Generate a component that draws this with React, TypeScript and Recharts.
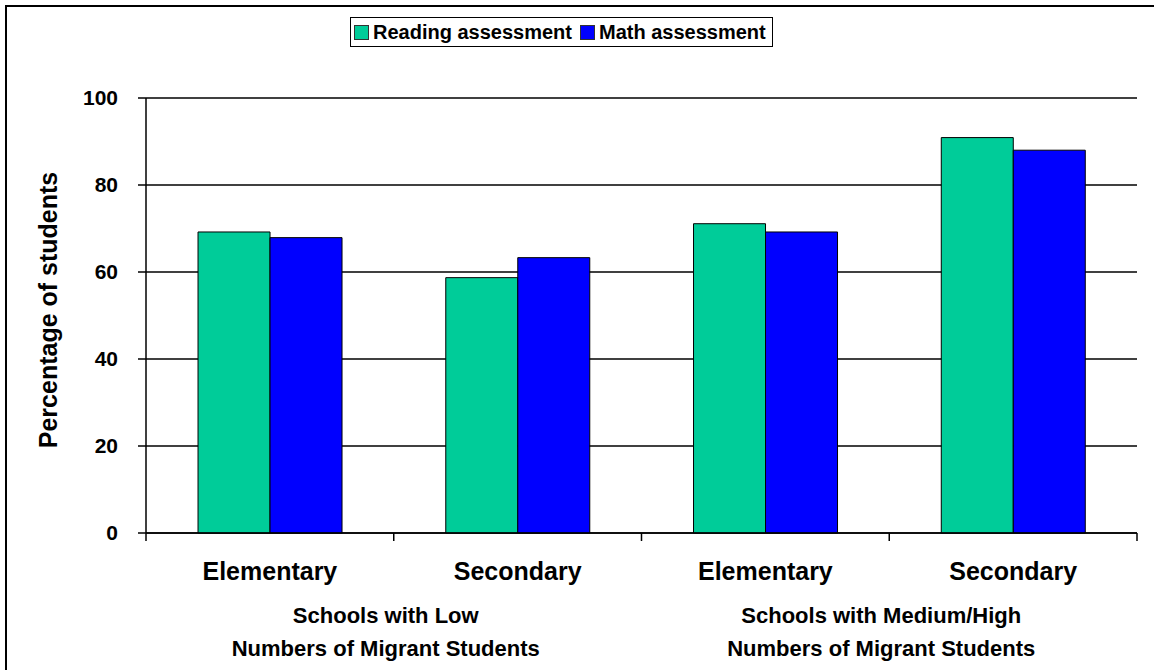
import React from "react";
import { Bar, BarChart, CartesianGrid, XAxis, YAxis } from "recharts";

const categories = ["Elementary", "Secondary", "Elementary", "Secondary"];
const readingValues = [69.2, 58.7, 71.1, 90.9];
const mathValues = [67.9, 63.3, 69.2, 88.0];
const groupLabels = [
  ["Schools with Low", "Numbers of Migrant Students"],
  ["Schools with Medium/High", "Numbers of Migrant Students"]
];
const yTicks = [0, 20, 40, 60, 80, 100];
const seriesNames = ["Reading assessment", "Math assessment"];
const seriesColors = ["#00CC99", "#0000FF"];

const data = categories.map((name, i) => ({
  idx: i,
  name,
  reading: readingValues[i],
  math: mathValues[i]
}));

const W = 1154;
const H = 670;
const margin = { top: 98, right: 17, left: 86, bottom: 0 };
const yAxisWidth = 60;
const xAxisHeight = 137;
const band = (W - margin.left - margin.right - yAxisWidth) / categories.length;
const FONT = "'Liberation Sans', Arial, sans-serif";

function CategoryTick(props: any) {
  const { x, y, payload, index } = props;
  const left = x - band / 2;
  const g = Math.floor(index / 2);
  return (
    <g>
      <line x1={left} x2={left} y1={y} y2={y + 8} stroke="#000" strokeWidth={1.5} />
      {index === categories.length - 1 && (
        <line x1={x + band / 2} x2={x + band / 2} y1={y} y2={y + 8} stroke="#000" strokeWidth={1.5} />
      )}
      <text x={x} y={y + 47} textAnchor="middle" fontSize={25} fontWeight="bold" fill="#000" fontFamily={FONT}>
        {categories[payload.value]}
      </text>
      {index % 2 === 1 &&
        groupLabels[g].map((line, j) => (
          <text
            key={j}
            x={left - 8}
            y={y + 90 + j * 33}
            textAnchor="middle"
            fontSize={22}
            fontWeight="bold"
            fill="#000"
            fontFamily={FONT}
          >
            {line}
          </text>
        ))}
    </g>
  );
}

export default function App() {
  return (
    <div style={{ position: "absolute", left: 0, top: 0, width: W, height: H, overflow: "hidden", background: "#fff", fontFamily: FONT }}>
      <div style={{ position: "absolute", left: 5, top: 5, width: 1170, height: 690, border: "2px solid #000" }} />
      <div
        style={{
          position: "absolute",
          left: 350,
          top: 17,
          height: 28,
          padding: "0 6px 0 3px",
          border: "1.5px solid #000",
          display: "flex",
          alignItems: "center",
          fontSize: 20,
          fontWeight: "bold",
          whiteSpace: "nowrap",
          zIndex: 2,
          background: "#fff"
        }}
      >
        {seriesNames.map((s, i) => (
          <span key={s} style={{ display: "flex", alignItems: "center", marginRight: i === 0 ? 8 : 0 }}>
            <span style={{ width: 13, height: 13, background: seriesColors[i], border: "1px solid #333", marginRight: 4 }} />
            {s}
          </span>
        ))}
      </div>
      <BarChart width={W} height={H} data={data} margin={margin} barCategoryGap="21%" barGap={0}>
        <CartesianGrid vertical={false} stroke="#000" strokeWidth={1.5} />
        <XAxis
          dataKey="idx"
          height={xAxisHeight}
          axisLine={{ stroke: "#000", strokeWidth: 1.5 }}
          tickLine={false}
          tickSize={0}
          tickMargin={0}
          interval={0}
          tick={<CategoryTick />}
        />
        <YAxis
          width={yAxisWidth}
          domain={[0, 100]}
          ticks={yTicks}
          axisLine={{ stroke: "#000", strokeWidth: 1.5 }}
          tickLine={{ stroke: "#000", strokeWidth: 1.5 }}
          tickSize={8}
          tickMargin={20}
          tick={{ fill: "#000", fontSize: 21, fontWeight: "bold", fontFamily: FONT }}
          label={{
            content: () => (
              <text
                x={57}
                y={310}
                transform="rotate(-90, 57, 310)"
                textAnchor="middle"
                fontSize={25}
                fontWeight="bold"
                fill="#000"
                fontFamily={FONT}
              >
                Percentage of students
              </text>
            )
          }}
        />
        <Bar dataKey="reading" name={seriesNames[0]} fill={seriesColors[0]} stroke="#000" strokeWidth={1} isAnimationActive={false} />
        <Bar dataKey="math" name={seriesNames[1]} fill={seriesColors[1]} stroke="#000" strokeWidth={1} isAnimationActive={false} />
      </BarChart>
    </div>
  );
}
